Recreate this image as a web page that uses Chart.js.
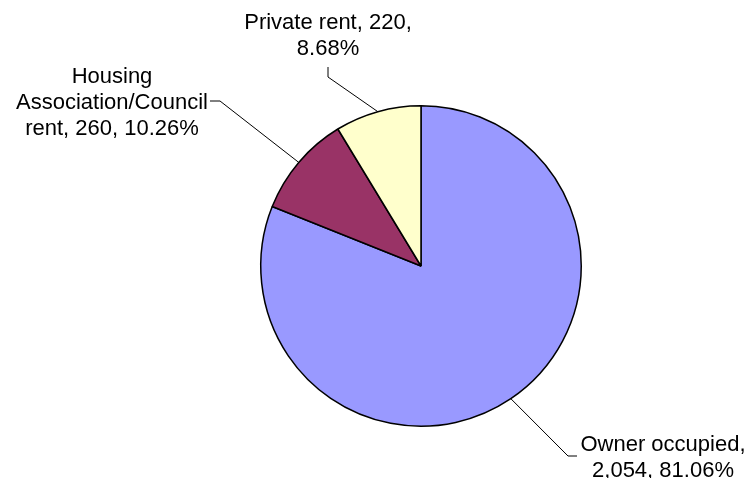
<!DOCTYPE html>
<html>
<head>
<meta charset="utf-8">
<title>Tenure</title>
<script src="https://cdn.jsdelivr.net/npm/chart.js@4/dist/chart.umd.min.js"></script>
<style>
  body { margin: 0; background: #fff; }
  canvas { display: block; }
</style>
</head>
<body>
<canvas id="tenureChart" width="746" height="478"></canvas>
<script>
'use strict';
let categories = ['Owner occupied', 'Housing Association/Council rent', 'Private rent'];
let households = [2054, 260, 220];
let sliceColors = ['#9999FF', '#993366', '#FFFFCC'];

let total = households.reduce(function (a, b) { return a + b; }, 0);

function labelText(i) {
    let pct = (households[i] / total * 100).toFixed(2);
    return categories[i] + ', ' + households[i].toLocaleString('en-GB') + ', ' + pct + '%';
}

function wrapText(ctx, text, maxWidth) {
    let words = text.split(' ');
    let lines = [];
    let line = '';
    for (let i = 0; i < words.length; i++) {
        let test = line ? line + ' ' + words[i] : words[i];
        if (line && ctx.measureText(test).width > maxWidth) {
            lines.push(line);
            line = words[i];
        } else {
            line = test;
        }
    }
    if (line) lines.push(line);
    return lines;
}

// data labels with leader lines, placed the way the spreadsheet put them
let leaderLabels = {
    id: 'leaderLabels',
    afterDatasetsDraw(chart, args, opts) {
        let ctx = chart.ctx;
        let arcs = chart.getDatasetMeta(0).data;
        ctx.save();
        ctx.font = opts.font;
        ctx.fillStyle = '#000';
        ctx.strokeStyle = '#000';
        ctx.lineWidth = 1;
        opts.items.forEach(function (item, i) {
            let arc = arcs[i];
            let mid = (arc.startAngle + arc.endAngle) / 2;
            let ex = arc.x + Math.cos(mid) * arc.outerRadius;
            let ey = arc.y + Math.sin(mid) * arc.outerRadius;
            ctx.beginPath();
            ctx.moveTo(ex, ey);
            ctx.lineTo(item.elbow[0], item.elbow[1]);
            ctx.lineTo(item.end[0], item.end[1]);
            ctx.stroke();

            let lines = wrapText(ctx, labelText(i), item.wrap);
            ctx.textAlign = 'center';
            ctx.textBaseline = 'alphabetic';
            lines.forEach(function (ln, k) {
                ctx.fillText(ln, item.x, item.y + k * opts.lineHeight);
            });
        });
        ctx.restore();
    }
};

let ctx = document.getElementById('tenureChart').getContext('2d');
let tenureChart = new Chart(ctx, {
    type: 'pie',
    data: {
        labels: categories,
        datasets: [{
            data: households,
            backgroundColor: sliceColors,
            borderColor: '#000',
            borderWidth: 1.5
        }]
    },
    options: {
        responsive: false,
        animation: false,
        layout: {
            padding: { left: 260, right: 164, top: 105, bottom: 51 }
        },
        plugins: {
            legend: { display: false },
            tooltip: { enabled: false },
            leaderLabels: {
                font: '22px "Liberation Sans", Arial, sans-serif',
                lineHeight: 26,
                items: [
                    { x: 663, y: 451, wrap: 175, elbow: [568, 456], end: [577, 456] },
                    { x: 112, y: 83, wrap: 195, elbow: [220, 101], end: [210, 101] },
                    { x: 328, y: 29, wrap: 175, elbow: [328, 77], end: [328, 67] }
                ]
            }
        }
    },
    plugins: [leaderLabels]
});
</script>
</body>
</html>
